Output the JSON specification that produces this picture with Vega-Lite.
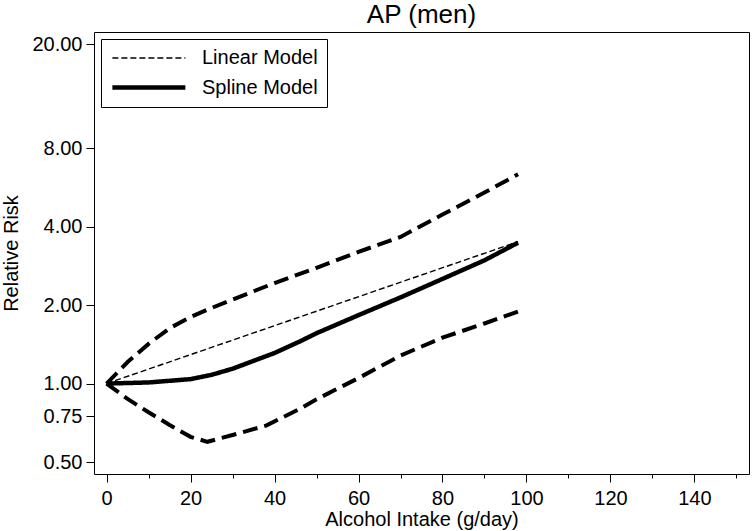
{
  "$schema": "https://vega.github.io/schema/vega-lite/v6.json",
  "width": 655,
  "height": 442,
  "autosize": {"type": "none"},
  "padding": {"left": 94, "top": 32, "right": 3, "bottom": 57},
  "background": "white",
  "title": {"text": "AP (men)", "fontSize": 26, "font": "Liberation Sans", "fontWeight": "normal", "anchor": "middle", "frame": "group", "baseline": "alphabetic", "offset": 9, "dy": 26, "color": "black"},
  "config": {
    "view": {"stroke": "black", "strokeWidth": 1},
    "axis": {"domain": false, "grid": false, "tickColor": "black", "tickWidth": 1, "labelColor": "black", "titleColor": "black", "labelFont": "Liberation Sans", "titleFont": "Liberation Sans", "labelFontSize": 20, "titleFontSize": 20, "titleFontWeight": "normal"},
    "legend": {"orient": "none", "legendX": 7, "legendY": 7, "strokeColor": "black", "fillColor": "white", "padding": 9, "symbolType": "M-1,0H7", "symbolSize": 333, "labelFontSize": 20, "labelFont": "Liberation Sans", "labelColor": "black", "labelOffset": 69, "rowPadding": 8, "symbolStrokeColor": "black"}
  },
  "datasets": {
    "ci": [
      {"x": 0, "rr": 1, "bound": "upper"}, {"x": 5, "rr": 1.21, "bound": "upper"}, {"x": 10, "rr": 1.42, "bound": "upper"}, {"x": 15, "rr": 1.63, "bound": "upper"}, {"x": 20, "rr": 1.8, "bound": "upper"}, {"x": 24, "rr": 1.92, "bound": "upper"}, {"x": 30, "rr": 2.1, "bound": "upper"}, {"x": 40, "rr": 2.43, "bound": "upper"}, {"x": 50, "rr": 2.78, "bound": "upper"}, {"x": 60, "rr": 3.2, "bound": "upper"}, {"x": 70, "rr": 3.65, "bound": "upper"}, {"x": 80, "rr": 4.45, "bound": "upper"}, {"x": 90, "rr": 5.4, "bound": "upper"}, {"x": 98, "rr": 6.35, "bound": "upper"},
      {"x": 0, "rr": 1, "bound": "lower"}, {"x": 5, "rr": 0.873, "bound": "lower"}, {"x": 10, "rr": 0.776, "bound": "lower"}, {"x": 15, "rr": 0.694, "bound": "lower"}, {"x": 20, "rr": 0.625, "bound": "lower"}, {"x": 24, "rr": 0.598, "bound": "lower"}, {"x": 30, "rr": 0.635, "bound": "lower"}, {"x": 38, "rr": 0.69, "bound": "lower"}, {"x": 46, "rr": 0.8, "bound": "lower"}, {"x": 50, "rr": 0.87, "bound": "lower"}, {"x": 60, "rr": 1.05, "bound": "lower"}, {"x": 70, "rr": 1.28, "bound": "lower"}, {"x": 80, "rr": 1.5, "bound": "lower"}, {"x": 90, "rr": 1.7, "bound": "lower"}, {"x": 98, "rr": 1.89, "bound": "lower"}
    ],
    "main": [
      {"x": 0, "rr": 1, "model": "Linear Model"}, {"x": 98, "rr": 3.5, "model": "Linear Model"},
      {"x": 0, "rr": 1, "model": "Spline Model"}, {"x": 10, "rr": 1.01, "model": "Spline Model"}, {"x": 20, "rr": 1.04, "model": "Spline Model"}, {"x": 25, "rr": 1.08, "model": "Spline Model"}, {"x": 30, "rr": 1.14, "model": "Spline Model"}, {"x": 40, "rr": 1.31, "model": "Spline Model"}, {"x": 46, "rr": 1.45, "model": "Spline Model"}, {"x": 50, "rr": 1.56, "model": "Spline Model"}, {"x": 60, "rr": 1.83, "model": "Spline Model"}, {"x": 70, "rr": 2.14, "model": "Spline Model"}, {"x": 80, "rr": 2.52, "model": "Spline Model"}, {"x": 90, "rr": 2.97, "model": "Spline Model"}, {"x": 98, "rr": 3.47, "model": "Spline Model"}
    ]
  },
  "encoding": {
    "x": {"field": "x", "type": "quantitative", "scale": {"domain": [-3, 153], "nice": false, "zero": false},
      "axis": {"title": "Alcohol Intake (g/day)", "values": [0, 10, 20, 30, 40, 50, 60, 70, 80, 90, 100, 110, 120, 130, 140, 150], "labelExpr": "datum.value % 20 === 0 ? datum.label : ''", "tickSize": {"condition": {"test": "datum.value % 20 === 0", "value": 8}, "value": 4}, "labelPadding": 6, "titleBaseline": "alphabetic", "titleY": 51}},
    "y": {"field": "rr", "type": "quantitative", "scale": {"type": "log", "domain": [0.45, 22.3], "nice": false, "zero": false},
      "axis": {"title": "Relative Risk", "values": [0.5, 0.75, 1, 2, 4, 8, 20], "format": ".2f", "tickSize": 8, "labelPadding": 4, "titleX": -77, "titleY": 221, "titleBaseline": "alphabetic", "titleAngle": 270}}
  },
  "layer": [
    {"data": {"name": "ci"}, "mark": {"type": "line", "color": "black", "strokeWidth": 4, "strokeDash": [15, 7]},
      "encoding": {"detail": {"field": "bound", "type": "nominal"}}},
    {"data": {"name": "main"}, "mark": {"type": "line", "color": "black"},
      "encoding": {
        "strokeDash": {"field": "model", "type": "nominal", "scale": {"domain": ["Linear Model", "Spline Model"], "range": [[6, 3], [1, 0]]}, "legend": {"title": null}},
        "strokeWidth": {"field": "model", "type": "nominal", "scale": {"domain": ["Linear Model", "Spline Model"], "range": [1.4, 4.5]}, "legend": {"title": null}}
      }}
  ]
}
